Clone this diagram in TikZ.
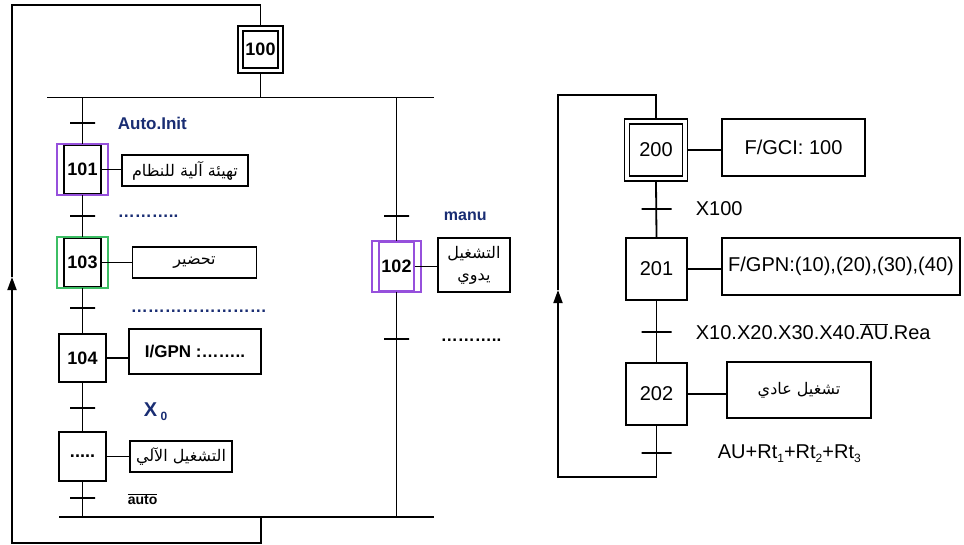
\documentclass[tikz,border=0pt]{standalone}
\usepackage{fontspec}
\setmainfont{Liberation Sans}
\newfontfamily\arabicfont[Script=Arabic]{DejaVu Sans}
\TeXXeTstate=1
\usetikzlibrary{arrows.meta}
\definecolor{navy}{RGB}{25,45,115}
\definecolor{stepviolet}{RGB}{150,80,220}
\definecolor{stepgreen}{RGB}{60,190,100}
\newcommand{\lowidx}[1]{\raisebox{-4pt}{\fontsize{12}{12}\selectfont #1}}
\tikzstyle{stepbox}=[draw,rectangle,inner sep=0pt,minimum width=47pt,minimum height=48pt,font=\bfseries\fontsize{18}{18}\selectfont]
\tikzstyle{initbox}=[stepbox,double,double distance=3.2pt,outer sep=3.4pt]
\tikzstyle{actbox}=[draw,rectangle,inner sep=2pt,font=\bfseries\fontsize{17}{17}\selectfont]
\tikzstyle{arbox}=[actbox,font=\arabicfont\fontsize{16}{16}\selectfont]
\tikzstyle{trans}=[draw,rectangle,inner sep=0pt,minimum width=25pt,minimum height=0pt]
\tikzstyle{lbl}=[anchor=west,inner sep=0pt,font=\bfseries\fontsize{17}{17}\selectfont]

\begin{document}
\begin{tikzpicture}[x=1pt,y=-1pt,line width=1.8pt]
\useasboundingbox (0,0) rectangle (964,544);
% ---- left chart
  \node[initbox,minimum width=40pt,minimum height=42pt] (s100) at (260.5,49.5) {100};
  \node[stepbox,minimum width=37pt,minimum height=49pt] (s101) at (82.5,169.5) {101};
  \node[stepbox,minimum width=37pt,minimum height=49pt] (s103) at (82.5,262.5) {103};
  \node[stepbox] (s104) at (82.5,358) {104};
  \node[stepbox,minimum height=49pt] (s105) at (82.5,456.5) {.....};
  \node[stepbox,draw=stepviolet,minimum width=35pt,minimum height=49pt] (s102) at (396.5,266.5) {102};
  \draw[stepviolet,line width=1.3pt] ([xshift=-6pt]s101.north west) rectangle ([xshift=6pt]s101.south east);
  \draw[stepgreen,line width=1.3pt] ([xshift=-6pt]s103.north west) rectangle ([xshift=6pt]s103.south east);
  \draw[stepviolet,line width=1.3pt] ([xshift=-6pt]s102.north west) rectangle ([xshift=6pt]s102.south east);

  \node[arbox,minimum width=126pt,minimum height=31pt] (a101) at (185,170.5) {\beginR تهيئة آلية للنظام\endR};
  \node[arbox,minimum width=124pt,minimum height=31pt] (a103) at (194.5,262.5) {\beginR تحضير\endR};
  \node[actbox,minimum width=132pt,minimum height=45pt] (a104) at (195,351.5) {I/GPN :……..};
  \node[arbox,minimum width=102pt,minimum height=31pt] (a105) at (181,456.5) {\beginR التشغيل الآلي\endR};
  \node[arbox,minimum width=72pt,minimum height=54pt,align=center,font=\arabicfont\fontsize{16}{22}\selectfont] (a102) at (474,265) {\beginR التشغيل\endR\\\beginR يدوي\endR};
  \foreach \name in {101,103,104,105,102}
    \draw (s\name.east) -- (s\name.east -| a\name.west);

  \coordinate (busTL) at (47,97.5);
  \coordinate (busTR) at (434,97.5);
  \coordinate (busBL) at (59,517);
  \coordinate (busBR) at (434,517);
  \draw (busTL) -- (busTR);
  \draw (busBL) -- (busBR);
  \draw (s100.south) -- (s100.south |- busTL);
  \draw (s101.north |- busTL) -- (s101.north);
  \draw (s101.south) -- (s103.north);
  \draw (s103.south) -- (s104.north);
  \draw (s104.south) -- (s105.north);
  \draw (s105.south) -- (s105.south |- busBL);
  \draw (s102.north |- busTL) -- (s102.north);
  \draw (s102.south) -- (s102.south |- busBL);

  \foreach \place/\name in {{(82.5,123)/t1},{(82.5,216)/t2},{(82.5,308)/t3},
                            {(82.5,408)/t4},{(82.5,498)/t5},
                            {(396.5,216)/t6},{(396.5,339)/t7}}
    \node[trans] (\name) at \place {};

  \node[lbl,text=navy] (c1) at (117,123) {Auto.Init};
  \node[lbl,text=navy] (c2) at (117,216) {………..};
  \node[lbl,text=navy] (c3) at (130,311) {……………………};
  \node[lbl,text=navy,font=\bfseries\fontsize{20}{20}\selectfont] (c4) at (143,412) {X\,\lowidx{0}};
  \node[lbl,font=\bfseries\fontsize{14}{14}\selectfont] (c5) at (127,499) {$\overline{\mbox{auto}}$};
  \node[lbl,text=navy,font=\bfseries\fontsize{16}{16}\selectfont] (c6) at (443,216) {manu};
  \node[lbl] (c7) at (440,340) {………..};

  % loop back to 100
  \coordinate (loopLB) at (261,543);
  \coordinate (loopLL) at (12,543);
  \coordinate (arrL) at (12,277);
  \coordinate (loopLT) at (12,5);
  \draw[-{Triangle[length=13pt,width=9pt]}] (loopLB |- busBL) -- (loopLB) -- (loopLL) -- (arrL);
  \draw (arrL) -- (loopLT) -| (s100.north);

% ---- right chart
  \node[initbox,minimum width=58pt,minimum height=57pt,font=\fontsize{20}{20}\selectfont] (s200) at (656,150) {200};
  \node[stepbox,minimum width=61pt,minimum height=62pt,font=\fontsize{20}{20}\selectfont] (s201) at (656.5,269) {201};
  \node[stepbox,minimum width=61pt,minimum height=62pt,font=\fontsize{20}{20}\selectfont] (s202) at (656.5,394) {202};

  \node[actbox,font=\fontsize{20}{20}\selectfont,minimum width=143pt,minimum height=57pt] (a200) at (793.5,147.5) {F/GCI: 100};
  \node[actbox,font=\fontsize{20}{20}\selectfont,minimum width=238pt,minimum height=57pt] (a201) at (841,266.5) {F/GPN:(10),(20),(30),(40)};
  \node[arbox,minimum width=144pt,minimum height=56pt] (a202) at (799,390) {\beginR تشغيل عادي\endR};
  \foreach \name in {200,201,202}
    \draw (s\name.east) -- (s\name.east -| a\name.west);

  \draw (s200.south) -- (s201.north);
  \draw (s201.south) -- (s202.north);
  \foreach \place/\name in {{(656.5,209)/t8},{(656.5,332)/t9},{(656.5,453)/t10}}
    \node[trans,minimum width=30pt] (\name) at \place {};

  \node[lbl,font=\fontsize{20}{20}\selectfont] (c8) at (695,209) {X100};
  \node[lbl,font=\fontsize{20}{20}\selectfont] (c9) at (695,332) {X10.X20.X30.X40.$\overline{\mbox{AU}}$.Rea};
  \node[lbl,font=\fontsize{20}{20}\selectfont] (c10) at (717,454) {AU+Rt\lowidx{1}+Rt\lowidx{2}+Rt\lowidx{3}};

  % loop back to 200
  \coordinate (loopRB) at (656.5,477);
  \coordinate (loopRL) at (558,477);
  \coordinate (arrR) at (558,290);
  \coordinate (loopRT) at (558,95);
  \draw[-{Triangle[length=13pt,width=9pt]}] (s202.south) -- (loopRB) -- (loopRL) -- (arrR);
  \draw (arrR) -- (loopRT) -| (s200.north);
\end{tikzpicture}
\end{document}
